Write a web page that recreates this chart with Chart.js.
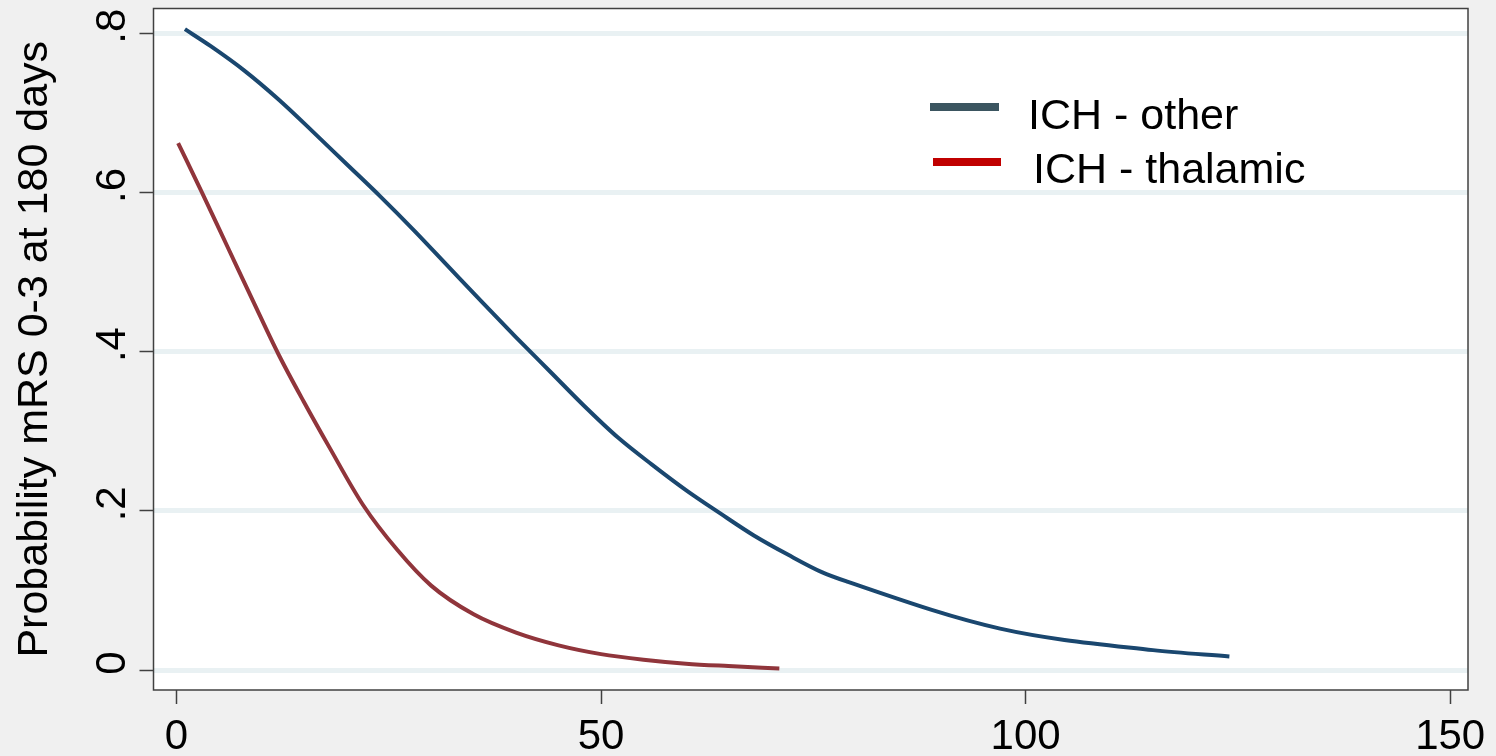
<!DOCTYPE html>
<html>
<head>
<meta charset="utf-8">
<script src="https://cdn.jsdelivr.net/npm/chart.js@4/dist/chart.umd.min.js"></script>
<style>
  html, body { margin: 0; padding: 0; background: #f0f0f0; }
  canvas { display: block; }
</style>
</head>
<body>
<canvas id="chart_mrs" width="1496" height="756"></canvas>
<script>
// values
var otherX = [1, 4, 8, 12, 16, 20, 24, 28, 32, 36, 40, 44, 48, 52, 56, 60, 64, 68, 72, 76, 79, 97, 115, 124];
var otherY = [0.805, 0.784, 0.753, 0.717, 0.677, 0.636, 0.595, 0.552, 0.507, 0.462, 0.418, 0.375, 0.332, 0.292, 0.258, 0.226, 0.197, 0.169, 0.145, 0.123, 0.111, 0.052, 0.025, 0.017];

var thalamicX = [0.2, 3, 6, 9, 12, 15, 18, 22, 26, 30, 35, 40, 45, 50, 55, 60, 65, 71];
var thalamicY = [0.662, 0.600, 0.532, 0.464, 0.397, 0.337, 0.280, 0.207, 0.151, 0.106, 0.070, 0.047, 0.031, 0.020, 0.013, 0.008, 0.005, 0.002];

var seriesLabels = ['ICH - other', 'ICH - thalamic'];
var xTicks = [0, 50, 100, 150];
var yTicks = [0, 0.2, 0.4, 0.6, 0.8];

function toPoints(xs, ys) {
    return xs.map(function (x, i) { return { x: x, y: ys[i] }; });
}

var FONT = 'Liberation Sans, Arial, sans-serif';

// stata-ish frame + background
var framePlugin = {
    id: 'frame',
    beforeDraw: function (chart) {
        var ctx = chart.ctx, a = chart.chartArea;
        ctx.save();
        ctx.fillStyle = '#f0f0f0';
        ctx.fillRect(0, 0, chart.width, chart.height);
        ctx.fillStyle = '#ffffff';
        ctx.fillRect(a.left, a.top, a.right - a.left, a.bottom - a.top);
        ctx.restore();
    },
    afterDraw: function (chart) {
        var ctx = chart.ctx, a = chart.chartArea;
        ctx.save();
        ctx.strokeStyle = '#404040';
        ctx.lineWidth = 1.5;
        ctx.strokeRect(a.left, a.top, a.right - a.left, a.bottom - a.top);
        ctx.restore();
    }
};

// legend inside the plot, the swatch colours differ from the lines like in the original
var legendColors = ['#3b5560', '#c00000'];
var legendPlugin = {
    id: 'insideLegend',
    afterDraw: function (chart) {
        var ctx = chart.ctx;
        var rows = [
            { x1: 930, x2: 999, y: 107, tx: 1028, ty: 129 },
            { x1: 933, x2: 1001, y: 162, tx: 1033, ty: 183 }
        ];
        ctx.save();
        rows.forEach(function (r, i) {
            ctx.strokeStyle = legendColors[i];
            ctx.lineWidth = 8;
            ctx.beginPath();
            ctx.moveTo(r.x1, r.y);
            ctx.lineTo(r.x2, r.y);
            ctx.stroke();
            ctx.fillStyle = '#000000';
            ctx.font = '43px ' + FONT;
            ctx.textBaseline = 'alphabetic';
            ctx.fillText(chart.data.datasets[i].label, r.tx, r.ty);
        });
        ctx.restore();
    }
};

var ctx = document.getElementById('chart_mrs').getContext('2d');
var chart = new Chart(ctx, {
    type: 'line',
    data: {
        datasets: [{
            label: seriesLabels[0],
            data: toPoints(otherX, otherY),
            borderColor: '#1a476f',
            borderWidth: 4,
            pointRadius: 0,
            cubicInterpolationMode: 'monotone',
            fill: false
        }, {
            label: seriesLabels[1],
            data: toPoints(thalamicX, thalamicY),
            borderColor: '#90353b',
            borderWidth: 4,
            pointRadius: 0,
            cubicInterpolationMode: 'monotone',
            fill: false
        }]
    },
    options: {
        responsive: false,
        animation: false,
        layout: { padding: { top: 8.5, right: 28, left: 0, bottom: 0 } },
        plugins: {
            legend: { display: false },
            tooltip: { enabled: false }
        },
        scales: {
            x: {
                type: 'linear',
                min: -2.7,
                max: 152.1,
                afterBuildTicks: function (scale) {
                    scale.ticks = xTicks.map(function (v) { return { value: v }; });
                },
                afterFit: function (scale) {
                    scale.height = 66;
                    scale.paddingLeft = 0;
                    scale.paddingRight = 0;
                },
                border: { display: false },
                grid: {
                    drawOnChartArea: false,
                    drawTicks: true,
                    tickLength: 14,
                    tickColor: '#404040',
                    tickWidth: 1.5
                },
                ticks: {
                    color: '#000000',
                    padding: 8,
                    maxRotation: 0,
                    font: { family: FONT, size: 42 }
                }
            },
            y: {
                type: 'linear',
                min: -0.0251,
                max: 0.831,
                afterBuildTicks: function (scale) {
                    scale.ticks = yTicks.map(function (v) { return { value: v }; });
                },
                afterFit: function (scale) {
                    scale.width = 153.5;
                    scale.paddingTop = 0;
                    scale.paddingBottom = 0;
                },
                border: { display: false },
                grid: {
                    color: '#e9f1f3',
                    lineWidth: 5,
                    drawTicks: true,
                    tickLength: 14,
                    tickColor: '#404040',
                    tickWidth: 1.5
                },
                ticks: {
                    color: '#000000',
                    minRotation: 90,
                    maxRotation: 90,
                    crossAlign: 'center',
                    padding: 9,
                    labelOffset: -7,
                    font: { family: FONT, size: 42 },
                    callback: function (v) {
                        return v === 0 ? '0' : v.toFixed(1).replace(/^0/, '');
                    }
                },
                title: {
                    display: true,
                    text: 'Probability mRS 0-3 at 180 days',
                    color: '#000000',
                    font: { family: FONT, size: 43 },
                    padding: { top: 9, bottom: 0 }
                }
            }
        }
    },
    plugins: [framePlugin, legendPlugin]
});
</script>
</body>
</html>
